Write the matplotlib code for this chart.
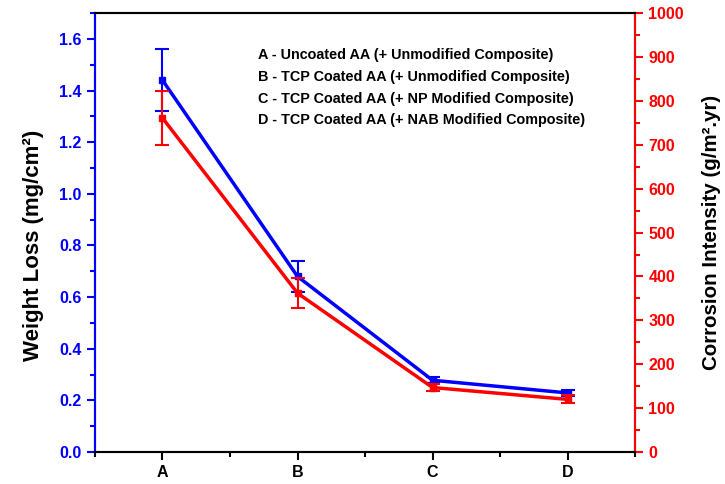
import matplotlib
matplotlib.use("Agg")
import matplotlib.pyplot as plt
from matplotlib.ticker import MultipleLocator

plt.rcParams['font.family'] = ['Liberation Sans', 'DejaVu Sans']
plt.rcParams['font.weight'] = 'bold'

categories = ["A", "B", "C", "D"]
weight_loss = [1.44, 0.68, 0.278, 0.229]
weight_loss_err = [0.12, 0.06, 0.012, 0.012]
corrosion = [761, 362, 147, 120]
corrosion_err = [62, 34, 9, 9]
descriptions = [
    "A - Uncoated AA (+ Unmodified Composite)",
    "B - TCP Coated AA (+ Unmodified Composite)",
    "C - TCP Coated AA (+ NP Modified Composite)",
    "D - TCP Coated AA (+ NAB Modified Composite)",
]

BLUE = "#0000ff"
RED = "#ff0000"

fig = plt.figure(figsize=(7.25, 4.84), dpi=100)
ax = fig.add_axes([0.131, 0.066, 0.745, 0.907])
x = list(range(len(categories)))

ax.errorbar(x, weight_loss, yerr=weight_loss_err, color=BLUE, lw=2.5,
            marker="s", ms=5, capsize=5, elinewidth=1.5, capthick=1.5)
ax.set_xlim(-0.5, 3.5)
ax.set_ylim(0, 1.7)
ax.set_xticks(x)
ax.set_xticklabels(categories)
ax.xaxis.set_minor_locator(MultipleLocator(0.5))
ax.yaxis.set_major_locator(MultipleLocator(0.2))
ax.yaxis.set_minor_locator(MultipleLocator(0.1))
ax.set_ylabel("Weight Loss (mg/cm²)", fontsize=16, fontweight="bold",
              color="black", labelpad=11)
ax.yaxis.label.set_y(0.47)
ax.tick_params(axis="y", colors=BLUE, labelsize=11.5, width=1.5, length=6, direction="out")
ax.tick_params(axis="y", which="minor", colors=BLUE, width=1.5, length=3.5)
ax.tick_params(axis="x", colors="black", labelsize=11.5, width=1.5, length=6, direction="out")
ax.tick_params(axis="x", which="minor", width=1.5, length=3.5)
ax.spines["left"].set_color(BLUE)
for s in ax.spines.values():
    s.set_linewidth(1.5)
ax.spines["top"].set_color("#222222")
ax.spines["bottom"].set_color("#222222")

ax2 = ax.twinx()
ax2.errorbar(x, corrosion, yerr=corrosion_err, color=RED, lw=2.5,
             marker="s", ms=5, capsize=5, elinewidth=1.5, capthick=1.5)
ax2.set_ylim(0, 1000)
ax2.yaxis.set_major_locator(MultipleLocator(100))
ax2.yaxis.set_minor_locator(MultipleLocator(50))
ax2.set_ylabel("Corrosion Intensity (g/m².yr)", fontsize=14.8,
               fontweight="bold", color="black", labelpad=13)
ax2.tick_params(axis="y", colors=RED, labelsize=11.5, width=1.5, length=6, direction="out")
ax2.tick_params(axis="y", which="minor", colors=RED, width=1.5, length=3.5)
ax2.spines["right"].set_color(RED)
ax2.spines["left"].set_color(BLUE)
for s in ax2.spines.values():
    s.set_linewidth(1.5)

for i, text in enumerate(descriptions):
    ax.text(0.301, 0.904 - i * 0.0494, text, transform=ax.transAxes,
            fontsize=10.4, fontweight="bold", color="black", va="center", ha="left")

fig.savefig("out.png", dpi=100)
